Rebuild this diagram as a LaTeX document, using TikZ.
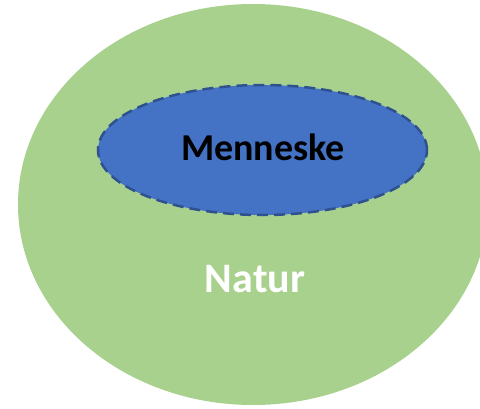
\documentclass[tikz,border=0pt]{standalone}
\usepackage{fontspec}
\setmainfont{Carlito}
\usetikzlibrary{shapes.geometric}
\definecolor{naturgreen}{HTML}{A9D18E}
\definecolor{menneskeblue}{HTML}{4472C4}
\definecolor{menneskeedge}{HTML}{2F528F}
\tikzset{natur/.style = {ellipse, fill=naturgreen, inner sep=0pt},
         menneske/.style = {ellipse, fill=menneskeblue, draw=menneskeedge,
                            line width=2.5pt, dash pattern=on 11pt off 6pt, inner sep=0pt},
         label/.style = {font=\bfseries, inner sep=0pt}}

\begin{document}
\begin{tikzpicture}[x=1pt, y=1pt]
    \useasboundingbox (0,0) rectangle (480,408);
    \fill[white] (0,0) rectangle (480,408);
    \node[natur, minimum width=470pt, minimum height=401pt] (outer) at (253,203.5) {};
    \node[menneske, minimum width=329pt, minimum height=130pt] (inner) at (262.5,258) {};
    \node[label, font=\fontsize{38}{42}\selectfont\bfseries, text=black] (mtext) at (263,261) {Menneske};
    \node[label, font=\fontsize{42}{46}\selectfont\bfseries, text=white] (ntext) at (255,129) {Natur};
\end{tikzpicture}
\end{document}
